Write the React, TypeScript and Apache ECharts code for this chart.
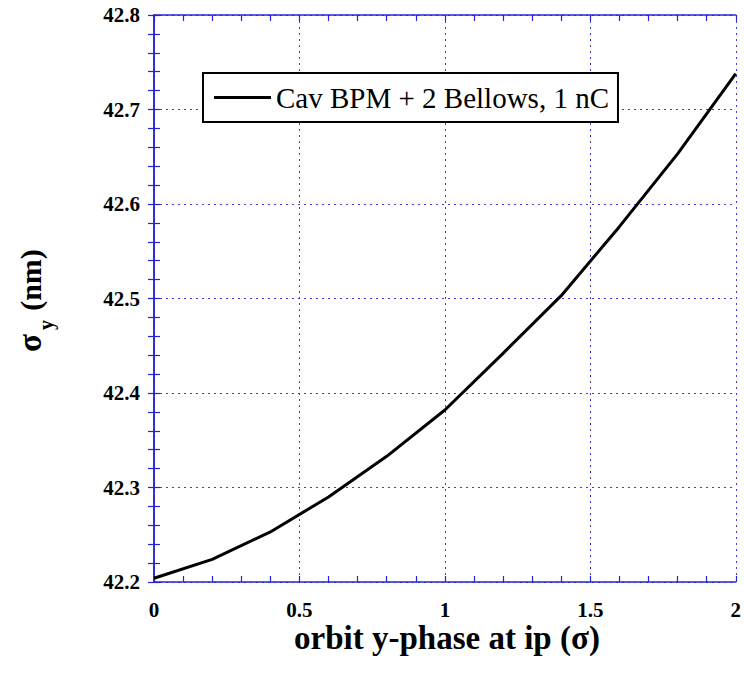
import React, { useEffect, useRef } from "react";
import * as echarts from "echarts";

const xValues = [0, 0.2, 0.4, 0.6, 0.8, 1.0, 1.2, 1.4, 1.6, 1.8, 2.0];
const sigmaY = [42.204, 42.224, 42.253, 42.29, 42.333, 42.382, 42.442, 42.503, 42.576, 42.653, 42.738];
const seriesName = "Cav BPM + 2 Bellows, 1 nC";
const xTitle = "orbit y-phase at ip (σ)";

const SERIF = "Liberation Serif";
const AXIS_BLUE = "#2424d4";
const GRID_BLUE = "#3c3ce0";

export default function App() {
  const ref = useRef<HTMLDivElement>(null);
  useEffect(() => {
    if (!ref.current) return;
    const chart = echarts.init(ref.current, undefined, { renderer: "svg" });
    const tickCommon = {
      axisLine: { show: true, lineStyle: { color: AXIS_BLUE, width: 1.5 } },
      axisTick: { show: true, inside: true, length: 6, lineStyle: { color: AXIS_BLUE, width: 1.2 } },
      minorTick: { show: true, splitNumber: 5, length: 6, lineStyle: { color: AXIS_BLUE, width: 1.2 } },
    };
    const labelStyle = { color: "#000", fontFamily: SERIF, fontWeight: "bold" as const, fontSize: 21 };
    chart.setOption({
      animation: false,
      backgroundColor: "#fff",
      grid: { left: 154, top: 15, right: 5, bottom: 93, containLabel: false },
      xAxis: [
        {
          type: "value", min: 0, max: 2, interval: 0.5, position: "bottom",
          ...tickCommon,
          axisLabel: { ...labelStyle, margin: 17, formatter: (v: number) => String(v) },
          splitLine: { show: true, lineStyle: { color: GRID_BLUE, type: [2, 4], width: 1 } },
        },
        {
          type: "value", min: 0, max: 2, interval: 0.5, position: "top",
          ...tickCommon,
          axisLabel: { show: false },
          splitLine: { show: false },
        },
      ],
      yAxis: [
        {
          type: "value", min: 42.2, max: 42.8, interval: 0.1, position: "left",
          ...tickCommon,
          axisLabel: { ...labelStyle, margin: 14, formatter: (v: number) => v.toFixed(1) },
          splitLine: { show: true, lineStyle: { color: GRID_BLUE, type: [2, 4], width: 1 } },
        },
        {
          type: "value", min: 42.2, max: 42.8, interval: 0.1, position: "right",
          ...tickCommon,
          axisLabel: { show: false },
          splitLine: { show: false },
        },
      ],
      legend: {
        show: true,
        left: 203,
        top: 73,
        orient: "horizontal",
        backgroundColor: "#fff",
        borderColor: "#000",
        borderWidth: 2,
        borderRadius: 0,
        padding: [10, 9, 10, 11],
        itemWidth: 57,
        itemHeight: 3,
        icon: "rect",
        textStyle: { color: "#000", fontFamily: SERIF, fontSize: 29 },
        data: [{ name: seriesName, itemStyle: { color: "#000" } }],
      },
      series: [
        {
          name: seriesName,
          type: "line",
          data: xValues.map((x, i) => [x, sigmaY[i]]),
          showSymbol: false,
          symbol: "none",
          lineStyle: { color: "#000", width: 3 },
          itemStyle: { color: "#000" },
          z: 5,
        },
      ],
      graphic: [
        {
          type: "text",
          x: 447,
          y: 638,
          style: {
            text: xTitle,
            fill: "#000",
            font: `bold 33px ${SERIF}`,
            align: "center",
            verticalAlign: "middle",
          },
        },
        {
          type: "group",
          x: 30,
          y: 302,
          rotation: Math.PI / 2,
          children: [
            {
              type: "text",
              x: -41,
              y: 0,
              style: { text: "σ", fill: "#000", font: `bold 33px ${SERIF}`, align: "center", verticalAlign: "middle" },
            },
            {
              type: "text",
              x: -23,
              y: 16,
              style: { text: "y", fill: "#000", font: `bold 20px ${SERIF}`, align: "center", verticalAlign: "middle" },
            },
            {
              type: "text",
              x: 22,
              y: 0,
              style: { text: "(nm)", fill: "#000", font: `bold 30px ${SERIF}`, align: "center", verticalAlign: "middle" },
            },
          ],
        },
      ],
    });
    return () => chart.dispose();
  }, []);
  return <div ref={ref} style={{ position: "fixed", left: 0, top: 0, width: 744, height: 675 }} />;
}
